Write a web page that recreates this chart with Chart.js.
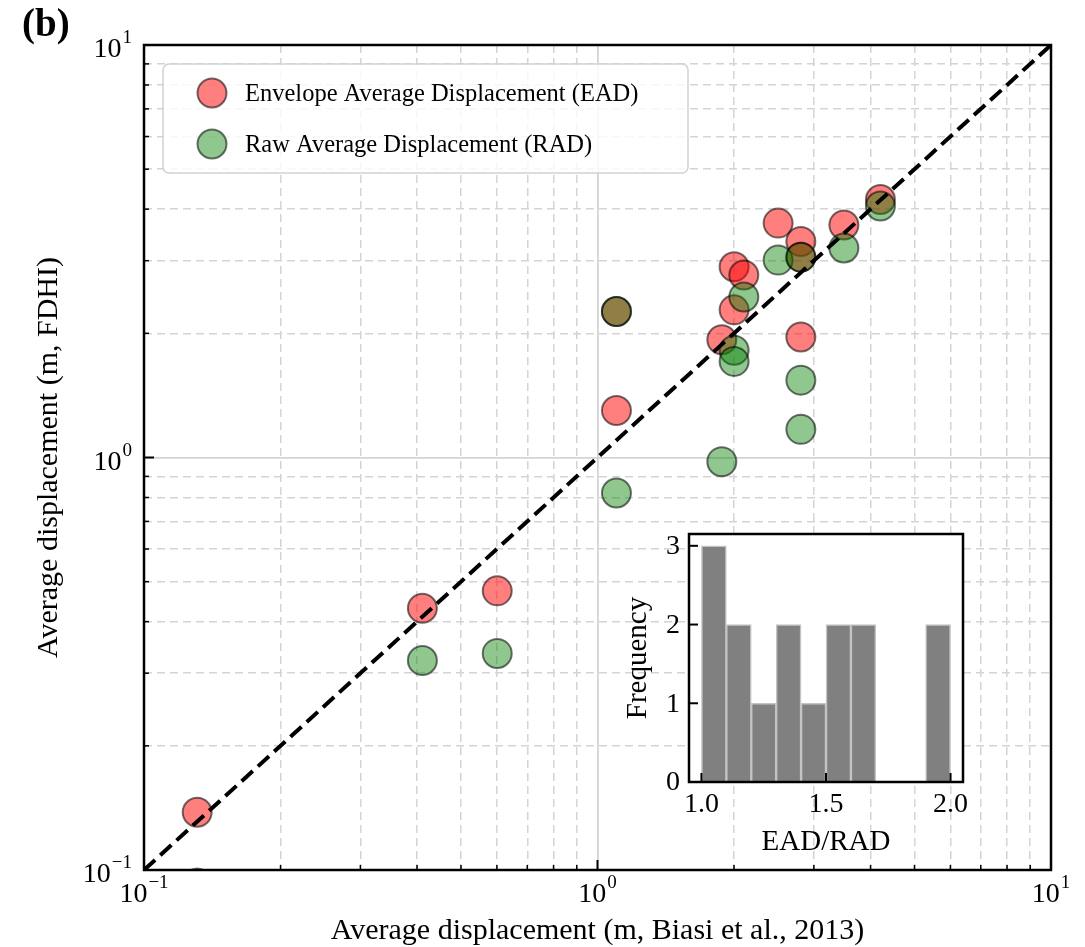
<!DOCTYPE html>
<html>
<head>
<meta charset="utf-8">
<script src="https://cdn.jsdelivr.net/npm/chart.js@4.4.1/dist/chart.umd.min.js"></script>
<style>
  html, body { margin: 0; padding: 0; background: #fff; overflow: hidden; }
  #wrap { position: relative; width: 1085px; height: 947px; }
  #main { position: absolute; left: 0; top: 0; }
  #inset { position: absolute; left: 600px; top: 520px; }
</style>
</head>
<body>
<div id="wrap">
  <canvas id="main" width="1085" height="947"></canvas>
  <canvas id="inset" width="400" height="345"></canvas>
</div>
<script>
// average displacement per event, Biasi et al. (2013)
const biasiAD = [0.131, 0.411, 0.601, 1.101, 1.101, 1.880, 2.001, 2.001, 2.102, 2.502, 2.808, 2.808, 2.808, 3.494, 4.206];
// FDHI envelope / raw average displacement (same events)
const eadFDHI = [0.138, 0.431, 0.475, 2.26, 1.30, 1.93, 2.90, 2.28, 2.77, 3.70, 3.34, 3.06, 1.96, 3.66, 4.22];
const radFDHI = [0.093, 0.322, 0.335, 2.26, 0.82, 0.977, 1.82, 1.71, 2.45, 3.01, 3.06, 1.54, 1.17, 3.22, 4.07];

// histogram of EAD/RAD
const ratioBins = [1.05, 1.15, 1.25, 1.35, 1.45, 1.55, 1.65, 1.75, 1.85, 1.95];
const ratioCounts = [3, 2, 1, 2, 1, 2, 2, 0, 0, 2];
const ratioTicks = [1.0, 1.5, 2.0];
const ratioTickLabels = ['1.0', '1.5', '2.0'];
const freqTicks = [0, 1, 2, 3];

// log axes
const decades = [0.1, 1, 10];
const decadeExp = ['\u22121', '0', '1'];
const logTicks = [0.1, 0.2, 0.3, 0.4, 0.5, 0.6, 0.7, 0.8, 0.9, 1, 2, 3, 4, 5, 6, 7, 8, 9, 10];

const seriesNames = ['Envelope Average Displacement (EAD)', 'Raw Average Displacement (RAD)'];

const SERIF = "'Liberation Serif', 'Times New Roman', serif";
const RED = 'rgba(255,0,0,0.5)';
const GREEN = 'rgba(0,128,0,0.44)';
const EDGE = 'rgba(0,0,0,0.55)';

const isDecade = v => decades.some(d => Math.abs(d - v) < 1e-9);

// "10" with a superscript exponent
function drawPow(ctx, left, base, exp) {
  ctx.font = '28px ' + SERIF;
  ctx.fillText('10', left, base);
  const w = ctx.measureText('10').width;
  ctx.font = '19px ' + SERIF;
  ctx.fillText(exp, left + w + 1, base - 14);
}
function powWidth(ctx, exp) {
  ctx.font = '28px ' + SERIF;
  const w = ctx.measureText('10').width;
  ctx.font = '19px ' + SERIF;
  return w + 1 + ctx.measureText(exp).width;
}

const mainDecor = {
  id: 'mainDecor',
  afterDatasetsDraw(chart) {
    const { ctx, chartArea: a, scales: { x, y } } = chart;
    ctx.save();

    // legend
    ctx.beginPath();
    ctx.roundRect(163, 64, 525, 109, 6);
    ctx.fillStyle = 'rgba(255,255,255,0.8)';
    ctx.fill();
    ctx.strokeStyle = '#d2d2d2';
    ctx.lineWidth = 1.5;
    ctx.stroke();
    [RED, GREEN].forEach((col, i) => {
      const cy = 93 + i * 51;
      ctx.beginPath();
      ctx.arc(212, cy, 14.5, 0, Math.PI * 2);
      ctx.fillStyle = col;
      ctx.fill();
      ctx.strokeStyle = EDGE;
      ctx.lineWidth = 2;
      ctx.stroke();
      ctx.fillStyle = '#000';
      ctx.font = '24.5px ' + SERIF;
      ctx.textAlign = 'left';
      ctx.textBaseline = 'alphabetic';
      ctx.fillText(seriesNames[i], 245, cy + 8);
    });

    // inward ticks
    ctx.strokeStyle = '#000';
    logTicks.forEach(v => {
      const major = isDecade(v);
      const len = major ? 10 : 5;
      ctx.lineWidth = major ? 2 : 1.5;
      const px = x.getPixelForValue(v);
      ctx.beginPath(); ctx.moveTo(px, a.bottom); ctx.lineTo(px, a.bottom - len); ctx.stroke();
      const py = y.getPixelForValue(v);
      ctx.beginPath(); ctx.moveTo(a.left, py); ctx.lineTo(a.left + len, py); ctx.stroke();
    });

    // frame
    ctx.lineWidth = 2.5;
    ctx.strokeRect(a.left, a.top, a.right - a.left, a.bottom - a.top);

    // tick labels
    ctx.fillStyle = '#000';
    ctx.textAlign = 'left';
    ctx.textBaseline = 'alphabetic';
    decades.forEach((v, i) => {
      const w = powWidth(ctx, decadeExp[i]);
      const py = y.getPixelForValue(v);
      drawPow(ctx, a.left - 12 - w, py + 12, decadeExp[i]);
      const px = x.getPixelForValue(v);
      drawPow(ctx, px - w / 2, a.bottom + 32, decadeExp[i]);
    });

    // axis titles
    ctx.font = '30px ' + SERIF;
    ctx.textAlign = 'center';
    ctx.fillText('Average displacement (m, Biasi et al., 2013)', (a.left + a.right) / 2, 939);
    ctx.save();
    ctx.translate(57, (a.top + a.bottom) / 2);
    ctx.rotate(-Math.PI / 2);
    ctx.fillText('Average displacement (m, FDHI)', 0, 0);
    ctx.restore();

    // panel letter
    ctx.font = 'bold 39px ' + SERIF;
    ctx.textAlign = 'left';
    ctx.fillText('(b)', 22, 36);
    ctx.restore();
  }
};

const logAxis = {
  type: 'logarithmic',
  min: 0.1,
  max: 10,
  ticks: { display: false },
  grid: {
    color: '#d4d4d4',
    lineWidth: c => (c.tick && isDecade(c.tick.value)) ? 1.8 : 1.5,
    drawTicks: false
  },
  border: {
    display: false,
    dash: c => (c.tick && !isDecade(c.tick.value)) ? [8, 5] : []
  },
  afterBuildTicks: s => { s.ticks = logTicks.map(v => ({ value: v })); }
};

new Chart(document.getElementById('main'), {
  type: 'scatter',
  data: {
    datasets: [
      {
        label: seriesNames[0],
        data: biasiAD.map((v, i) => ({ x: v, y: eadFDHI[i] })),
        backgroundColor: RED, borderColor: EDGE, borderWidth: 2,
        pointRadius: 14.5, clip: 0, order: 2
      },
      {
        label: seriesNames[1],
        data: biasiAD.map((v, i) => ({ x: v, y: radFDHI[i] })),
        backgroundColor: GREEN, borderColor: EDGE, borderWidth: 2,
        pointRadius: 14.5, clip: 0, order: 1
      },
      {
        label: '1:1',
        data: [{ x: decades[0], y: decades[0] }, { x: decades[2], y: decades[2] }],
        showLine: true, borderColor: '#000', borderWidth: 4, borderDash: [15, 7],
        pointRadius: 0, order: 0
      }
    ]
  },
  options: {
    responsive: false,
    animation: false,
    devicePixelRatio: 1,
    layout: { padding: { left: 144, top: 45, right: 34, bottom: 77 } },
    plugins: { legend: { display: false }, tooltip: { enabled: false } },
    scales: { x: logAxis, y: { ...logAxis } }
  },
  plugins: [mainDecor]
});

// inset histogram
const insetDecor = {
  id: 'insetDecor',
  beforeDraw(chart) {
    const { ctx, chartArea: a } = chart;
    ctx.save();
    ctx.fillStyle = '#fff';
    ctx.fillRect(a.left, a.top, a.right - a.left, a.bottom - a.top);
    ctx.restore();
  },
  afterDatasetsDraw(chart) {
    const { ctx, chartArea: a, scales: { x, y } } = chart;
    ctx.save();
    ctx.strokeStyle = '#000';
    ctx.lineWidth = 2;
    ratioTicks.forEach(v => {
      const px = x.getPixelForValue(v);
      ctx.beginPath(); ctx.moveTo(px, a.bottom); ctx.lineTo(px, a.bottom - 9); ctx.stroke();
    });
    freqTicks.forEach(v => {
      const py = y.getPixelForValue(v);
      ctx.beginPath(); ctx.moveTo(a.left, py); ctx.lineTo(a.left + 9, py); ctx.stroke();
    });
    ctx.lineWidth = 2.5;
    ctx.strokeRect(a.left, a.top, a.right - a.left, a.bottom - a.top);

    ctx.fillStyle = '#000';
    ctx.font = '28px ' + SERIF;
    ctx.textAlign = 'right';
    ctx.textBaseline = 'middle';
    freqTicks.forEach(v => ctx.fillText(String(v), a.left - 9, y.getPixelForValue(v) + 1));
    ctx.textAlign = 'center';
    ctx.textBaseline = 'alphabetic';
    ratioTicks.forEach((v, i) => ctx.fillText(ratioTickLabels[i], x.getPixelForValue(v), a.bottom + 30));

    ctx.font = '29px ' + SERIF;
    ctx.fillText('EAD/RAD', (a.left + a.right) / 2, a.bottom + 68);
    ctx.save();
    ctx.translate(46, (a.top + a.bottom) / 2);
    ctx.rotate(-Math.PI / 2);
    ctx.fillText('Frequency', 0, 0);
    ctx.restore();
    ctx.restore();
  }
};

new Chart(document.getElementById('inset'), {
  type: 'bar',
  data: {
    datasets: [{
      label: 'EAD/RAD',
      data: ratioBins.map((c, i) => ({ x: c, y: ratioCounts[i] })),
      backgroundColor: '#808080',
      borderColor: '#c4c4c4',
      borderWidth: 1.5,
      barPercentage: 1,
      categoryPercentage: 1
    }]
  },
  options: {
    responsive: false,
    animation: false,
    devicePixelRatio: 1,
    layout: { padding: { left: 89, top: 14, right: 37, bottom: 83 } },
    plugins: { legend: { display: false }, tooltip: { enabled: false } },
    scales: {
      x: {
        type: 'linear', min: 0.95, max: 2.05, offset: false,
        ticks: { display: false },
        grid: { display: false, drawTicks: false, offset: false },
        border: { display: false },
        afterBuildTicks: s => { s.ticks = ratioTicks.map(v => ({ value: v })); }
      },
      y: {
        type: 'linear', min: 0, max: 3.15,
        ticks: { display: false },
        grid: { display: false, drawTicks: false },
        border: { display: false },
        afterBuildTicks: s => { s.ticks = freqTicks.map(v => ({ value: v })); }
      }
    }
  },
  plugins: [insetDecor]
});
</script>
</body>
</html>
